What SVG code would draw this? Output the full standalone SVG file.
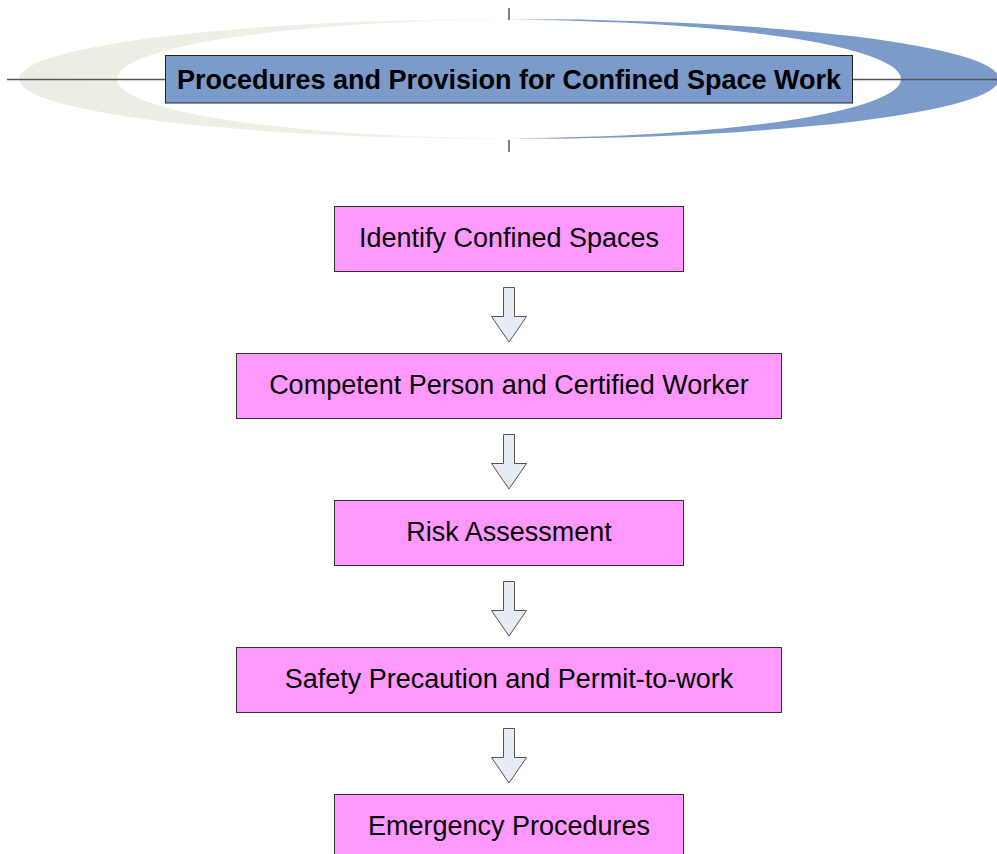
<svg xmlns="http://www.w3.org/2000/svg" width="997" height="854" viewBox="0 0 997 854">
<defs>
<linearGradient id="ring" gradientUnits="userSpaceOnUse" x1="19" y1="0" x2="1000" y2="0">
<stop offset="0" stop-color="#ecede2"/>
<stop offset="0.35" stop-color="#eeefe6"/>
<stop offset="0.48" stop-color="#f9f9f5"/>
<stop offset="0.5" stop-color="#ffffff"/>
<stop offset="0.52" stop-color="#c9d6ea"/>
<stop offset="0.56" stop-color="#7b9bcb"/>
<stop offset="1" stop-color="#7b9bcb"/>
</linearGradient>
<style>
.node rect{fill:#ff99ff;stroke:#333333;stroke-width:1}
.node text{font-family:"Liberation Sans",Arial,sans-serif;font-size:27px;fill:#000;text-anchor:middle}
.arrow{fill:#e6ecf6;stroke:#555555;stroke-width:1}
.line{stroke:#555555;stroke-width:1.5;fill:none}
</style>
</defs>
<g id="header">
<path d="M19,79 A490,60 0 0 1 999,79 A490,60 0 0 1 19,79 Z M117,79 A392,59 0 0 0 901,79 A392,59 0 0 0 117,79 Z" fill="url(#ring)" fill-rule="evenodd"/>
<line class="line" x1="7" y1="79.5" x2="997" y2="79.5"/>
<line class="line" x1="509" y1="8" x2="509" y2="20"/>
<line class="line" x1="509" y1="140" x2="509" y2="152"/>
<rect x="165.5" y="55.5" width="687" height="47.5" fill="#7b9bcb" stroke="#222222" stroke-width="1"/>
<text x="509" y="88.5" font-family="'Liberation Sans',Arial,sans-serif" font-size="27" font-weight="bold" text-anchor="middle" fill="#000">Procedures and Provision for Confined Space Work</text>
</g>
<g id="n1" class="node"><rect x="334.5" y="206.5" width="349" height="65"/><text x="509" y="246.5">Identify Confined Spaces</text></g>
<g id="n2" class="node"><rect x="236.5" y="353.5" width="545" height="65"/><text x="509" y="393.5">Competent Person and Certified Worker</text></g>
<g id="n3" class="node"><rect x="334.5" y="500.5" width="349" height="65"/><text x="509" y="540.5">Risk Assessment</text></g>
<g id="n4" class="node"><rect x="236.5" y="647.5" width="545" height="65"/><text x="509" y="687.5">Safety Precaution and Permit-to-work</text></g>
<g id="n5" class="node"><rect x="334.5" y="794.5" width="349" height="65"/><text x="509" y="834.5">Emergency Procedures</text></g>
<g id="connectors">
<path class="arrow" d="M503.5,287.5 H514.5 V316.5 H526.5 L509,342 L491.5,316.5 H503.5 Z"/>
<path class="arrow" d="M503.5,434.5 H514.5 V463.5 H526.5 L509,489 L491.5,463.5 H503.5 Z"/>
<path class="arrow" d="M503.5,581.5 H514.5 V610.5 H526.5 L509,636 L491.5,610.5 H503.5 Z"/>
<path class="arrow" d="M503.5,728.5 H514.5 V757.5 H526.5 L509,783 L491.5,757.5 H503.5 Z"/>
</g>
</svg>
